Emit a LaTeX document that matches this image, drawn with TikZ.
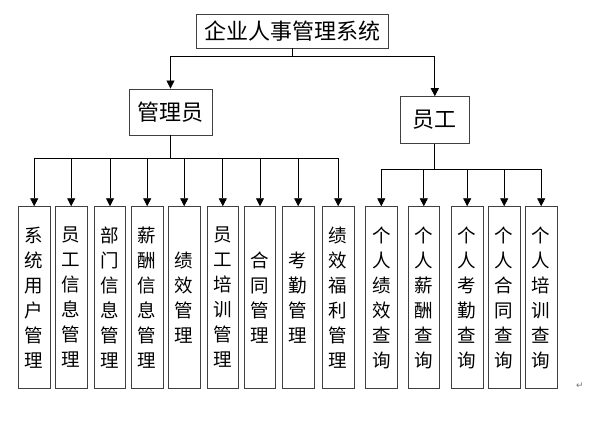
\documentclass[tikz,border=0pt]{standalone}
\usepackage{fontspec}
\newfontfamily\cjk{Noto Sans CJK SC}
\newfontfamily\dejavu{DejaVu Sans}
\usetikzlibrary{arrows.meta}
\begin{document}
\begin{tikzpicture}[x=1pt,y=-1pt,
  boxline/.style={draw=black!75,line width=0.9pt},
  topbox/.style={boxline,inner sep=0pt,font=\cjk\fontsize{22}{26}\selectfont},
  vbox/.style={boxline,inner sep=0pt,minimum width=31.5pt,minimum height=181.6pt,
    align=center,font=\cjk\fontsize{18.5}{25}\selectfont},
  conn/.style={draw=black,line width=0.8pt},
  arr/.style={conn,-{Triangle[width=8pt,length=8pt]}}
]
\useasboundingbox (0,0) rectangle (600,444);
% upper level
\node[topbox,minimum width=191.3pt,minimum height=34pt] (top) at (292.3,31) {企业人事管理系统};
\node[topbox,minimum width=83pt,minimum height=46pt] (adm) at (170.5,112) {管理员};
\node[topbox,minimum width=68.3pt,minimum height=46.6pt] (emp) at (434.8,120) {员工};
\coordinate (j1) at (292.3,56);
\coordinate (ab) at (170.5,158);
\coordinate (eb) at (434.8,169);
\draw[conn] (top.south) -- (j1);
\draw[arr] (j1) -| (adm.north);
\draw[arr] (j1) -| (emp.north);
\draw[conn] (adm.south) -- (ab);
\draw[conn] (emp.south) -- (eb);
% administrator modules
\node[vbox] (b1) at (34.2,297.5) {系\\统\\用\\户\\管\\理};
\node[vbox] (b2) at (71.2,297.5) {员\\工\\信\\息\\管\\理};
\node[vbox] (b3) at (110,297.5) {部\\门\\信\\息\\管\\理};
\node[vbox] (b4) at (147.2,297.5) {薪\\酬\\信\\息\\管\\理};
\node[vbox] (b5) at (184.2,297.5) {绩\\效\\管\\理};
\node[vbox] (b6) at (222.8,297.5) {员\\工\\培\\训\\管\\理};
\node[vbox] (b7) at (260,297.5) {合\\同\\管\\理};
\node[vbox] (b8) at (298.2,297.5) {考\\勤\\管\\理};
\node[vbox] (b9) at (338.2,297.5) {绩\\效\\福\\利\\管\\理};
% employee modules
\node[vbox] (c1) at (381.3,297.5) {个\\人\\绩\\效\\查\\询};
\node[vbox] (c2) at (423.8,297.5) {个\\人\\薪\\酬\\查\\询};
\node[vbox] (c3) at (467.2,297.5) {个\\人\\考\\勤\\查\\询};
\node[vbox] (c4) at (504.2,297.5) {个\\人\\合\\同\\查\\询};
\node[vbox] (c5) at (541.2,297.5) {个\\人\\培\\训\\查\\询};
\foreach \b in {b1,b2,b3,b4,b5,b6,b7,b8,b9}
  \draw[arr] (ab) -| (\b.north);
\foreach \c in {c1,c2,c3,c4,c5}
  \draw[arr] (eb) -| (\c.north);
\node[font=\dejavu\fontsize{9}{9}\selectfont,text=black!55,inner sep=0pt] (ret) at (580,386) {↵};
\end{tikzpicture}
\end{document}
